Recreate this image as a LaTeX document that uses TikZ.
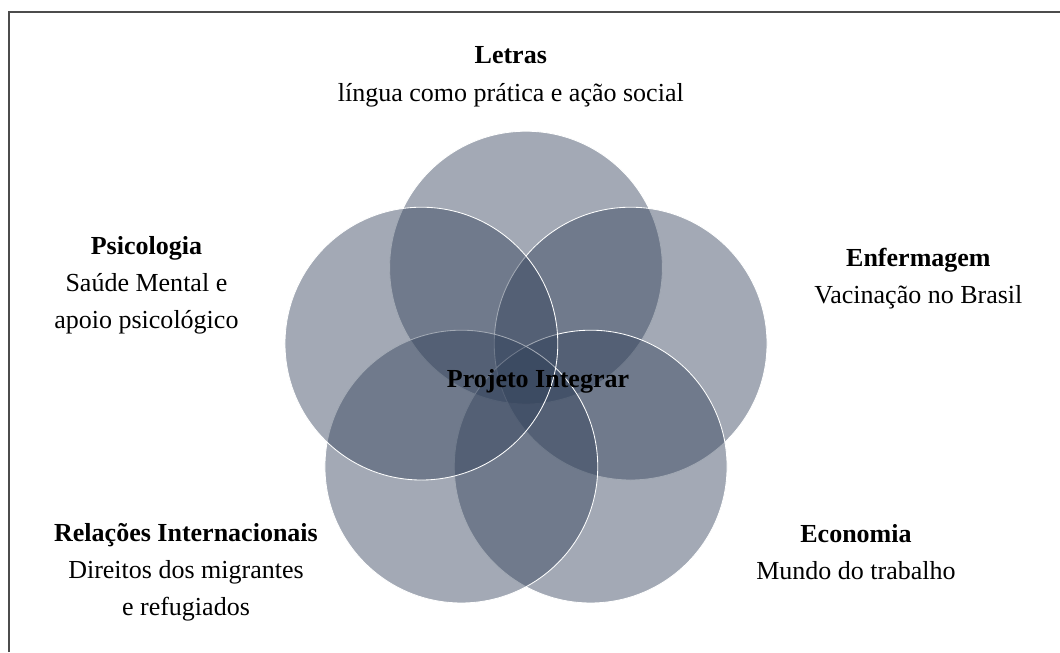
\documentclass[tikz,border=0pt]{standalone}
\usepackage{fontspec}
\setmainfont{Liberation Serif}
\definecolor{petalblue}{RGB}{50,65,90}

\begin{document}
\begin{tikzpicture}[
	petal/.style={fill=petalblue,fill opacity=0.45,draw=white,line width=0.6pt},
	area/.style={align=center,font=\fontsize{18.5}{26.5}\selectfont}
]
	\useasboundingbox (0,0) rectangle (26.5,16.3);
	\draw[line width=1pt,black!70] (0.225,0) -- (0.225,16.0) -- (26.5,16.0);
	
	\coordinate (mid) at (13.15,6.86);
	\foreach \a in {90,18,...,-198}
		\draw[petal] (mid) ++(\a:2.75) circle (3.41);
	
	\node[area] (letras) at (12.77,14.38) {\textbf{Letras}\\língua como prática e ação social};
	\node[area] (psico) at (3.66,9.17) {\textbf{Psicologia}\\Saúde Mental e\\apoio psicológico};
	\node[area] (enferm) at (22.96,9.33) {\textbf{Enfermagem}\\Vacinação no Brasil};
	\node[area] (relint) at (4.65,1.99) {\textbf{Relações Internacionais}\\Direitos dos migrantes\\e refugiados};
	\node[area] (econ) at (21.4,2.5) {\textbf{Economia}\\Mundo do trabalho};
	\node[area] (projeto) at (13.45,6.77) {\textbf{Projeto Integrar}};
\end{tikzpicture}
\end{document}
